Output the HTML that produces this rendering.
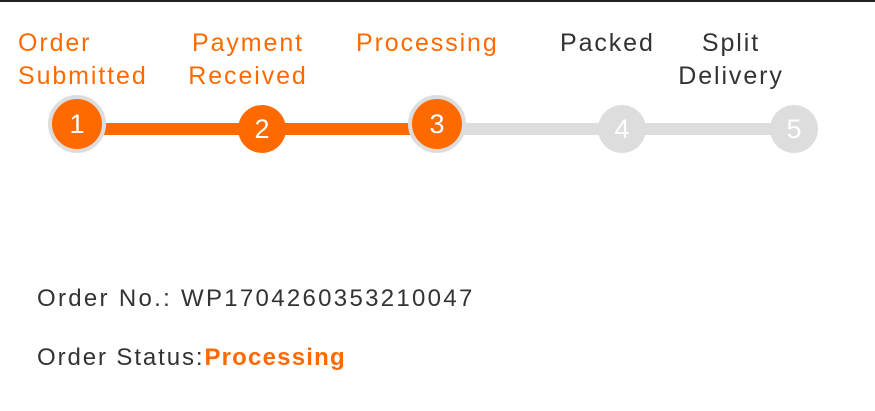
<!DOCTYPE html>
<html><head><style>
body{margin:0;width:875px;height:411px;background:#fff;position:relative;overflow:hidden;font-family:"Liberation Sans",sans-serif;}
.t{position:absolute;font-size:25px;line-height:33px;text-align:center;white-space:nowrap;letter-spacing:1.9px}
.o{color:#ff6a00}.g{color:#333}
.c{position:absolute;border-radius:50%;color:#fff;font-size:27px;display:flex;align-items:center;justify-content:center;box-sizing:border-box}
</style></head><body>
<div style="position:absolute;left:0;top:0;width:875px;height:2px;background:#222"></div>
<div class="t o" style="left:18px;top:27px;text-align:left">Order<br>Submitted</div>
<div class="t o" style="left:148px;top:27px;width:200px">Payment<br>Received</div>
<div class="t o" style="left:356px;top:27px">Processing</div>
<div class="t g" style="left:560px;top:27px">Packed</div>
<div class="t g" style="left:631px;top:27px;width:200px">Split<br>Delivery</div>
<div style="position:absolute;left:100px;top:123px;width:330px;height:12px;background:#ff6a00"></div>
<div style="position:absolute;left:440px;top:123px;width:355px;height:12px;background:#ddd"></div>
<div class="c" style="left:48px;top:95px;width:58px;height:58px;background:#ff6a00;border:4px solid #ddd">1</div>
<div class="c" style="left:238px;top:105px;width:48px;height:48px;background:#ff6a00">2</div>
<div class="c" style="left:408px;top:95px;width:58px;height:58px;background:#ff6a00;border:4px solid #ddd">3</div>
<div class="c" style="left:598px;top:105px;width:48px;height:48px;background:#ddd">4</div>
<div class="c" style="left:770px;top:105px;width:48px;height:48px;background:#ddd">5</div>
<div class="t g" style="left:37px;top:282px;font-size:24px;text-align:left;letter-spacing:2.3px">Order No.: WP1704260353210047</div>
<div class="t g" style="left:37px;top:341px;font-size:24px;text-align:left;letter-spacing:1.9px">Order Status:<b class="o" style="letter-spacing:1.2px">Processing</b></div>
</body></html>
